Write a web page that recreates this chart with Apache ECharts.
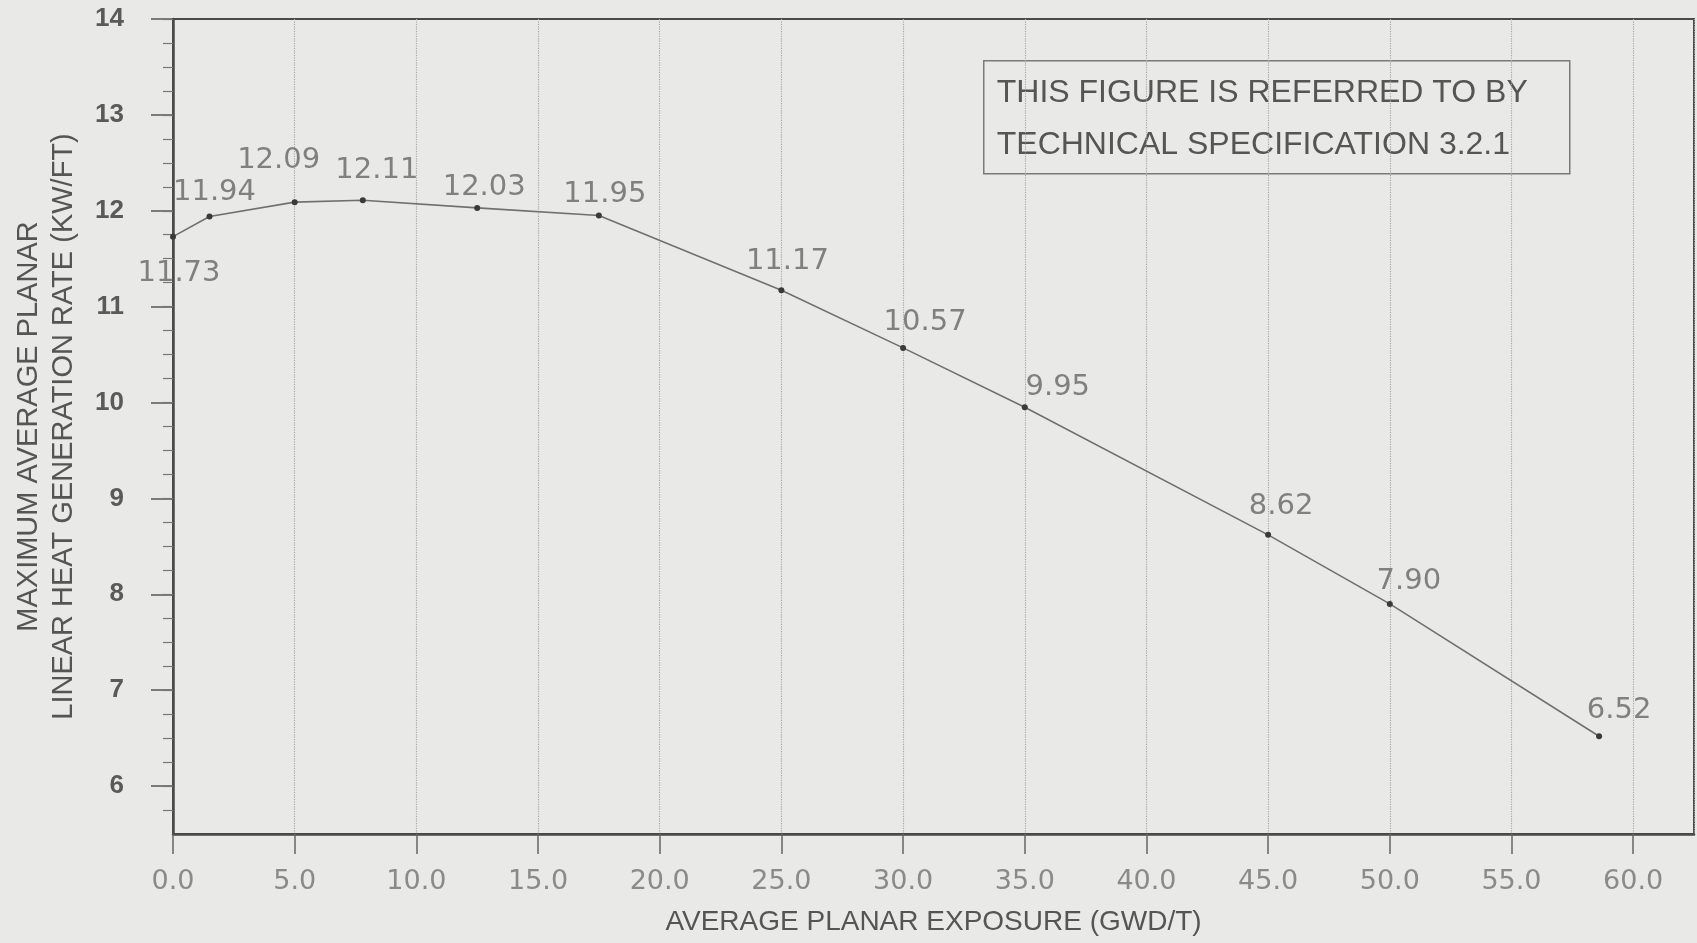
<!DOCTYPE html>
<html>
<head>
<meta charset="utf-8">
<style>
  html, body { margin: 0; padding: 0; background: #e9e9e7; }
  #chart { width: 1697px; height: 943px; }
</style>
<script src="https://cdn.jsdelivr.net/npm/echarts@6/dist/echarts.min.js"></script>
</head>
<body>
<div id="chart"></div>
<script>
// average planar exposure (GWD/T) and MAPLHGR (KW/FT)
const exposure = [0.0, 1.5, 5.0, 7.8, 12.5, 17.5, 25.0, 30.0, 35.0, 45.0, 50.0, 58.6];
const maplhgr = [11.73, 11.94, 12.09, 12.11, 12.03, 11.95, 11.17, 10.57, 9.95, 8.62, 7.90, 6.52];
const yTickLabels = [6, 7, 8, 9, 10, 11, 12, 13, 14];
const noteLines = ['THIS FIGURE IS REFERRED TO BY', 'TECHNICAL SPECIFICATION 3.2.1'];

// quarter ticks along the left axis
const yMinorTicks = [];
for (let v = 5.75; v <= 14; v += 0.25) {
  yMinorTicks.push(v);
}

// nudges so the value labels sit where the figure has them
const labelOffsets = [
  [6, 54], [5, -7], [-16, -24], [14, -12], [7, -3], [6, -4],
  [6, -11], [22, -8], [33, -2], [13, -11], [19, -5], [20, -8],
];

const chart = echarts.init(document.getElementById('chart'));

const ink = '#4a4a4a';
const greyText = '#808080';

chart.setOption({
  animation: false,
  backgroundColor: '#e9e9e7',
  grid: {
    left: 173,
    right: 3,
    top: 19,
    bottom: 109,
    show: true,
    borderColor: ink,
    borderWidth: 2,
  },
  xAxis: {
    type: 'value',
    min: 0,
    max: 62.5,
    interval: 5,
    name: 'AVERAGE PLANAR EXPOSURE (GWD/T)',
    nameLocation: 'middle',
    nameGap: 74,
    nameTextStyle: {
      fontFamily: 'Liberation Sans',
      fontSize: 28,
      color: '#555',
    },
    axisLine: { lineStyle: { color: ink, width: 2.5 } },
    axisTick: { length: 20, lineStyle: { color: '#666', width: 1.5 } },
    axisLabel: {
      margin: 34,
      fontFamily: 'DejaVu Sans',
      fontSize: 27,
      color: '#8a8a8a',
      showMaxLabel: false,
      formatter: v => v.toFixed(1),
    },
    splitLine: {
      show: true,
      lineStyle: { type: 'dotted', color: '#a8a8a8', width: 1.2 },
    },
  },
  yAxis: [
    {
      type: 'value',
      min: 5.5,
      max: 14,
      name: 'MAXIMUM AVERAGE PLANAR\nLINEAR HEAT GENERATION RATE (KW/FT)',
      nameLocation: 'middle',
      nameRotate: 90,
      nameGap: 92,
      nameTextStyle: {
        fontFamily: 'Liberation Sans',
        fontSize: 29,
        lineHeight: 35,
        color: '#555',
      },
      axisLine: { show: true, lineStyle: { color: ink, width: 2.5 } },
      axisTick: {
        show: true,
        length: 22,
        customValues: yTickLabels,
        lineStyle: { color: '#555', width: 1.5 },
      },
      axisLabel: {
        customValues: yTickLabels,
        margin: 49,
        fontFamily: 'Liberation Sans',
        fontWeight: 'bold',
        fontSize: 26,
        color: '#5a5a5a',
      },
      splitLine: { show: false },
    },
    {
      type: 'value',
      min: 5.5,
      max: 14,
      position: 'left',
      axisLine: { show: false },
      axisTick: {
        show: true,
        length: 10,
        customValues: yMinorTicks,
        lineStyle: { color: '#777', width: 1.2 },
      },
      axisLabel: { show: false },
      splitLine: { show: false },
    },
  ],
  series: [
    {
      type: 'line',
      yAxisIndex: 0,
      data: exposure.map((x, i) => ({
        value: [x, maplhgr[i]],
        label: { offset: labelOffsets[i] },
      })),
      symbol: 'circle',
      symbolSize: 6,
      itemStyle: { color: '#3a3a3a' },
      lineStyle: { color: '#707070', width: 1.6 },
      label: {
        show: true,
        position: 'top',
        distance: 0,
        fontFamily: 'DejaVu Sans',
        fontSize: 29,
        color: greyText,
        formatter: p => p.value[1].toFixed(2),
      },
    },
  ],
  graphic: [
    {
      type: 'group',
      left: 983,
      top: 60,
      children: [
        {
          type: 'rect',
          shape: { x: 0, y: 0, width: 586, height: 113 },
          style: { fill: 'transparent', stroke: '#7a7a7a', lineWidth: 1.5 },
        },
        {
          type: 'text',
          x: 13,
          y: 32,
          style: {
            text: noteLines[0],
            font: '32px "Liberation Sans"',
            fill: '#555',
            verticalAlign: 'middle',
          },
        },
        {
          type: 'text',
          x: 13,
          y: 84,
          style: {
            text: noteLines[1],
            font: '32px "Liberation Sans"',
            fill: '#555',
            verticalAlign: 'middle',
          },
        },
      ],
    },
  ],
});
</script>
</body>
</html>
